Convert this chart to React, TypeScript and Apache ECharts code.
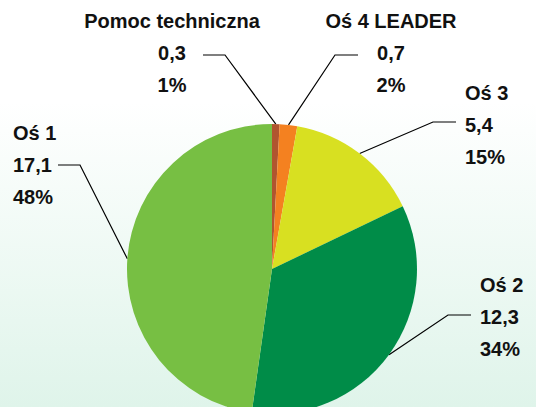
import React, { useEffect, useRef } from "react";
import * as echarts from "echarts";

const categories = ["Pomoc techniczna", "Oś 4 LEADER", "Oś 3", "Oś 2", "Oś 1"];
const values = [0.3, 0.7, 5.4, 12.3, 17.1];
const colors = ["#b0552f", "#f48120", "#d8e021", "#008c48", "#77bf43"];

// label anchor (value row centre) and leader line elbow/end, per slice
const labelLayouts = [
  { x: 172, y: 53, align: "center", elbow: [225, 55], end: [203, 55] },
  { x: 391, y: 53, align: "center", elbow: [335, 55], end: [358, 55] },
  { x: 465, y: 125, align: "left", elbow: [433, 122], end: [456, 122] },
  { x: 480, y: 317, align: "left", elbow: [448, 315], end: [471, 315] },
  { x: 13, y: 165, align: "left", elbow: [80, 165], end: [58, 165] },
];

export default function App() {
  const ref = useRef<HTMLDivElement>(null);
  useEffect(() => {
    if (!ref.current) return;
    const chart = echarts.init(ref.current, null, { renderer: "svg" });
    const font = "'Liberation Sans', Arial, sans-serif";
    const txt = (align: string) => ({
      fontSize: 20,
      fontWeight: "bold",
      fontFamily: font,
      color: "#111",
      lineHeight: 32,
      align,
    });
    chart.setOption({
      animation: false,
      backgroundColor: {
        type: "linear",
        x: 0,
        y: 0,
        x2: 0,
        y2: 1,
        colorStops: [
          { offset: 0, color: "#ffffff" },
          { offset: 0.25, color: "#ffffff" },
          { offset: 1, color: "#dff4ea" },
        ],
      },
      series: [
        {
          type: "pie",
          center: [272, 269],
          radius: 145,
          startAngle: 90,
          clockwise: true,
          silent: true,
          data: categories.map((name, i) => ({
            name,
            value: values[i],
            itemStyle: { color: colors[i] },
            label: {
              rich: { t: txt(labelLayouts[i].align), v: txt(labelLayouts[i].align) },
            },
          })),
          label: {
            show: true,
            overflow: "none",
            width: 300,
            formatter: (p: any) =>
              `{t|${p.name}}\n{v|${String(p.value).replace(".", ",")}}\n{v|${Math.round(p.percent)}%}`,
          },
          labelLine: {
            show: true,
            length: 20,
            length2: 20,
            smooth: false,
            lineStyle: { color: "#000", width: 1.2 },
          },
          labelLayout: (params: any) => {
            const l = labelLayouts[params.dataIndex];
            const p0 = params.labelLinePoints ? params.labelLinePoints[0] : l.elbow;
            return {
              x: l.x,
              y: l.y,
              align: l.align,
              verticalAlign: "middle",
              labelLinePoints: [p0, l.elbow, l.end],
            };
          },
        },
      ],
    });
    return () => chart.dispose();
  }, []);
  return (
    <div
      ref={ref}
      style={{ position: "fixed", left: 0, top: 0, width: 536, height: 407 }}
    />
  );
}
